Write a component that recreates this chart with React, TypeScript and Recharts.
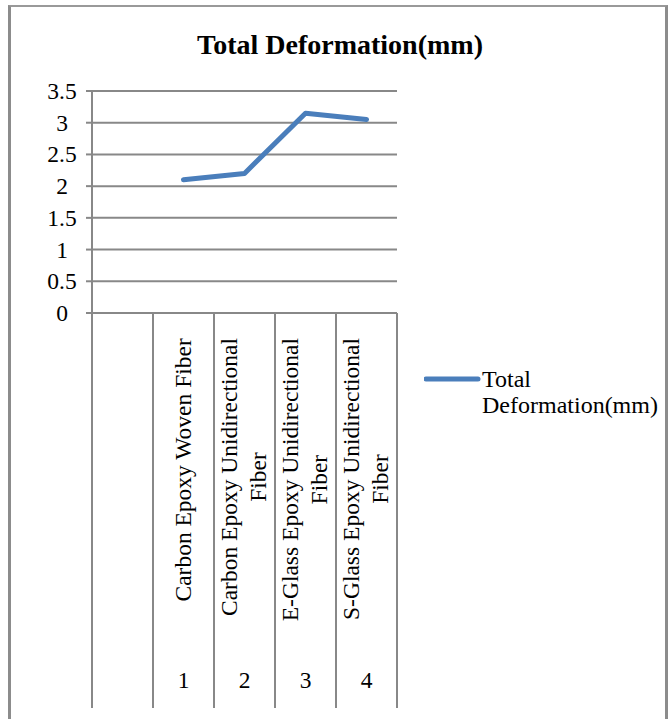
import React from "react";
import { LineChart, Line, XAxis, YAxis, CartesianGrid, Legend } from "recharts";

// ---- data ----
const categories = [
  "",
  "Carbon Epoxy Woven Fiber",
  "Carbon Epoxy Unidirectional Fiber",
  "E-Glass Epoxy Unidirectional Fiber",
  "S-Glass Epoxy Unidirectional Fiber",
];
const categoryIndex = ["", "1", "2", "3", "4"];
const deformation: (number | null)[] = [null, 2.1, 2.2, 3.15, 3.05];
const yTicks = [0, 0.5, 1, 1.5, 2, 2.5, 3, 3.5];
const seriesName = "Total Deformation(mm)";
const chartTitle = "Total Deformation(mm)";

const data = categories.map((name, i) => ({
  name,
  idx: categoryIndex[i],
  value: deformation[i],
}));

// ---- layout ----
const W = 671;
const H = 719;
const PLOT_LEFT = 92;
const PLOT_RIGHT = 397;
const PLOT_TOP = 91;
const PLOT_BOTTOM = 313;
const AXIS_BOTTOM = 708;
const BAND = (PLOT_RIGHT - PLOT_LEFT) / categories.length;
const FONT = '"Liberation Serif", "Times New Roman", serif';
const TICK_FONT = 23.5;
const GRID = "#888888";
const LINE_BLUE = "#4A7EBB";
const LABEL_TOP = 338;
const LABEL_LINE_GAP = 29;
const NUM_BASELINE = 688;

function wrapWords(text: string, maxChars: number): string[] {
  const words = text.split(" ").filter(Boolean);
  const lines: string[] = [];
  let cur = "";
  for (const w of words) {
    const next = cur ? cur + " " + w : w;
    if (next.length > maxChars && cur) {
      lines.push(cur);
      cur = w;
    } else {
      cur = next;
    }
  }
  if (cur) lines.push(cur);
  return lines;
}

let measureCtx: CanvasRenderingContext2D | null = null;
function textWidth(s: string): number {
  try {
    if (!measureCtx) {
      measureCtx = document.createElement("canvas").getContext("2d");
    }
    if (measureCtx) {
      measureCtx.font = `${TICK_FONT}px "Liberation Serif"`;
      return measureCtx.measureText(s).width;
    }
  } catch (e) {
    /* fall through */
  }
  return s.length * 10.5;
}

const XTick = (props: any) => {
  const { x, y, payload, index } = props;
  const name: string = payload.value;
  const lines = wrapWords(name, 28);
  const blockLen = Math.max(0, ...lines.map(textWidth));
  const cy = LABEL_TOP + blockLen / 2;
  const n = lines.length;
  const half = BAND / 2;
  return (
    <g>
      <line x1={x - half} x2={x - half} y1={y} y2={AXIS_BOTTOM} stroke={GRID} strokeWidth={2} />
      <line x1={x + half} x2={x + half} y1={y} y2={AXIS_BOTTOM} stroke={GRID} strokeWidth={2} />
      {lines.map((ln, i) => {
        const bx = x + 7.5 + (i - (n - 1) / 2) * LABEL_LINE_GAP;
        return (
          <text
            key={i}
            x={bx}
            y={cy}
            transform={`rotate(-90 ${bx} ${cy})`}
            textAnchor="middle"
            fontFamily={FONT}
            fontSize={TICK_FONT}
            fill="#000"
          >
            {ln}
          </text>
        );
      })}
      <text
        x={x}
        y={NUM_BASELINE}
        textAnchor="middle"
        fontFamily={FONT}
        fontSize={TICK_FONT}
        fill="#000"
      >
        {categoryIndex[index]}
      </text>
    </g>
  );
};

const YTick = (props: any) => {
  const { y, payload } = props;
  return (
    <text
      x={62}
      y={y}
      dy={8}
      textAnchor="middle"
      fontFamily={FONT}
      fontSize={TICK_FONT}
      fill="#000"
    >
      {String(payload.value)}
    </text>
  );
};

const LegendContent = (props: any) => {
  const items = props.payload || [];
  return (
    <div>
      {items.map((it: any, i: number) => (
        <div key={i} style={{ display: "flex", alignItems: "flex-start" }}>
          <svg width={58} height={26} style={{ display: "block" }}>
            <line x1={2} x2={54} y1={13} y2={13} stroke={it.color} strokeWidth={5} strokeLinecap="round" />
          </svg>
          <div
            style={{
              fontFamily: FONT,
              fontSize: 24,
              lineHeight: "26px",
              color: "#000",
              maxWidth: 185,
            }}
          >
            {it.value}
          </div>
        </div>
      ))}
    </div>
  );
};

export default function App() {
  return (
    <div
      style={{
        position: "absolute",
        left: 0,
        top: 0,
        width: W,
        height: H,
        overflow: "hidden",
        background: "#fff",
      }}
    >
      <div
        style={{
          position: "absolute",
          left: 8,
          top: 5,
          width: 660,
          height: 760,
          boxSizing: "border-box",
          borderLeft: "3px solid #8c8c8c",
          borderTop: "2px solid #999",
          borderRight: "3px solid #8c8c8c",
        }}
      />
      <div
        style={{
          position: "absolute",
          left: 0,
          top: 31,
          width: 680,
          textAlign: "center",
          fontFamily: FONT,
          fontWeight: "bold",
          fontSize: 28,
          lineHeight: "28px",
          color: "#000",
        }}
      >
        {chartTitle}
      </div>
      <div style={{ position: "absolute", left: 0, top: 0 }}>
        <LineChart
          width={W}
          height={H}
          data={data}
          margin={{ top: PLOT_TOP, right: W - PLOT_RIGHT, bottom: H - AXIS_BOTTOM, left: 0 }}
        >
          <CartesianGrid horizontal vertical={false} stroke={GRID} strokeWidth={2} />
          <XAxis
            dataKey="name"
            height={AXIS_BOTTOM - PLOT_BOTTOM}
            padding={{ left: BAND / 2, right: BAND / 2 }}
            interval={0}
            tickLine={false}
            tickSize={0}
            tickMargin={0}
            axisLine={{ stroke: GRID, strokeWidth: 2 }}
            tick={<XTick />}
          />
          <YAxis
            width={PLOT_LEFT}
            domain={[0, 3.5]}
            ticks={yTicks}
            interval={0}
            tickSize={6}
            tickMargin={2}
            tickLine={{ stroke: GRID, strokeWidth: 2 }}
            axisLine={{ stroke: GRID, strokeWidth: 2 }}
            tick={<YTick />}
          />
          <Legend
            layout="horizontal"
            verticalAlign="middle"
            align="center"
            wrapperStyle={{ left: 424, top: 366, width: "auto", height: "auto" }}
            content={<LegendContent />}
          />
          <Line
            type="linear"
            dataKey="value"
            name={seriesName}
            stroke={LINE_BLUE}
            strokeWidth={5}
            strokeLinecap="round"
            strokeLinejoin="round"
            dot={false}
            activeDot={false}
            isAnimationActive={false}
          />
        </LineChart>
      </div>
    </div>
  );
}
